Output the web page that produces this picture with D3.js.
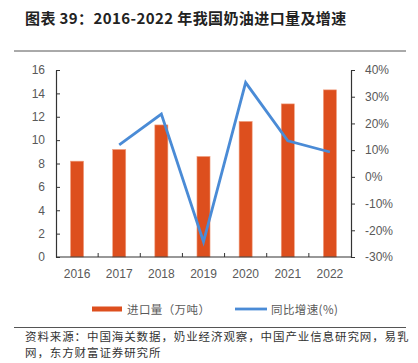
<!DOCTYPE html>
<html>
<head>
<meta charset="utf-8">
<script src="https://cdn.jsdelivr.net/npm/d3@7"></script>
<style>
  body { margin: 0; background: #fff; }
  svg { display: block; font-family: "Noto Sans CJK SC", "DejaVu Sans", sans-serif; }
</style>
</head>
<body>
<svg id="chart" width="418" height="363"></svg>
<script>
// chart values
var years = ["2016", "2017", "2018", "2019", "2020", "2021", "2022"];
var importVol = [8.2, 9.2, 11.3, 8.6, 11.6, 13.1, 14.3];
var yoyGrowth = [null, 12.0, 23.5, -24.3, 35.3, 13.5, 9.3];
var leftTicks = [0, 2, 4, 6, 8, 10, 12, 14, 16];
var rightTicks = [-30, -20, -10, 0, 10, 20, 30, 40];

var svg = d3.select("#chart");
var m = { left: 56, right: 351, top: 70, bottom: 257 };
var barColor = "#dd4f1e";
var lineColor = "#4a8bd6";
var textGrey = "#595959";

// title and frame lines
svg.append("text")
    .attr("x", 25).attr("y", 24)
    .attr("font-size", 15).attr("font-weight", "bold").attr("fill", "#222")
    .attr("letter-spacing", 0.4)
    .text("图表 39：2016-2022 年我国奶油进口量及增速");
svg.append("line").attr("x1", 14).attr("x2", 406).attr("y1", 51).attr("y2", 51)
    .attr("stroke", "#555").attr("stroke-width", 1);
svg.append("line").attr("x1", 14).attr("x2", 406).attr("y1", 327.5).attr("y2", 327.5)
    .attr("stroke", "#555").attr("stroke-width", 1);

var x = d3.scaleBand().domain(years).range([m.left, m.right]).padding(0);
var yL = d3.scaleLinear().domain([0, 16]).range([m.bottom, m.top]);
var yR = d3.scaleLinear().domain([-30, 40]).range([m.bottom, m.top]);

// bars
var bw = x.bandwidth() * 0.31;
svg.append("g").selectAll("rect").data(importVol).enter().append("rect")
    .attr("x", function(d, i) { return x(years[i]) + x.bandwidth() / 2 - bw / 2; })
    .attr("y", function(d) { return yL(d); })
    .attr("width", bw)
    .attr("height", function(d) { return yL(0) - yL(d); })
    .attr("fill", barColor)
    .attr("stroke", "#f0a080").attr("stroke-width", 0.6);

// left axis
var axL = svg.append("g").attr("transform", "translate(" + m.left + ",0)")
    .call(d3.axisLeft(yL).tickValues(leftTicks).tickSize(4).tickPadding(7).tickSizeOuter(0));
// right axis
var axR = svg.append("g").attr("transform", "translate(" + m.right + ",0)")
    .call(d3.axisRight(yR).tickValues(rightTicks).tickSize(4).tickPadding(10).tickSizeOuter(0)
        .tickFormat(function(d) { return d + "%"; }));
// bottom axis
var axB = svg.append("g").attr("transform", "translate(0," + m.bottom + ")")
    .call(d3.axisBottom(x).tickSize(0).tickPadding(12));
axB.selectAll(".tick line").remove();
axB.select(".domain").attr("d", "M" + m.left + ",0H" + m.right);
svg.append("g").selectAll("line").data(years.slice(1)).enter().append("line")
    .attr("x1", function(d) { return x(d); }).attr("x2", function(d) { return x(d); })
    .attr("y1", m.bottom).attr("y2", m.bottom - 4)
    .attr("stroke", "#333");

[axL, axR, axB].forEach(function(a) {
    a.selectAll(".domain").attr("stroke", "#333").attr("stroke-width", 1.2);
    a.selectAll(".tick line").attr("stroke", "#333");
    a.selectAll("text").attr("font-size", 12).attr("fill", textGrey)
        .attr("font-family", "'Liberation Sans', 'DejaVu Sans', sans-serif");
});
axL.selectAll(".tick line").attr("x2", 4);

// growth line
var line = d3.line()
    .defined(function(d) { return d != null; })
    .x(function(d, i) { return x(years[i]) + x.bandwidth() / 2; })
    .y(function(d) { return yR(d); });
svg.append("path").datum(yoyGrowth)
    .attr("d", line)
    .attr("fill", "none").attr("stroke", lineColor).attr("stroke-width", 2.8)
    .attr("stroke-linejoin", "miter");

// legend
var lg = svg.append("g").attr("font-size", 11.5).attr("fill", textGrey);
lg.append("rect").attr("x", 92).attr("y", 306.5).attr("width", 30).attr("height", 5).attr("fill", barColor);
lg.append("text").attr("x", 127).attr("y", 314).attr("letter-spacing", 0.4).text("进口量（万吨）");
lg.append("line").attr("x1", 235).attr("x2", 267).attr("y1", 309).attr("y2", 309)
    .attr("stroke", lineColor).attr("stroke-width", 2.8);
lg.append("text").attr("x", 271).attr("y", 314).attr("letter-spacing", 0.4).text("同比增速(%)");

// source note
var src = svg.append("g").attr("font-size", 11.5).attr("fill", "#333").attr("letter-spacing", 0.9);
src.append("text").attr("x", 25).attr("y", 341).text("资料来源：中国海关数据，奶业经济观察，中国产业信息研究网，易乳");
src.append("text").attr("x", 25).attr("y", 357).text("网，东方财富证券研究所");
</script>
</body>
</html>
